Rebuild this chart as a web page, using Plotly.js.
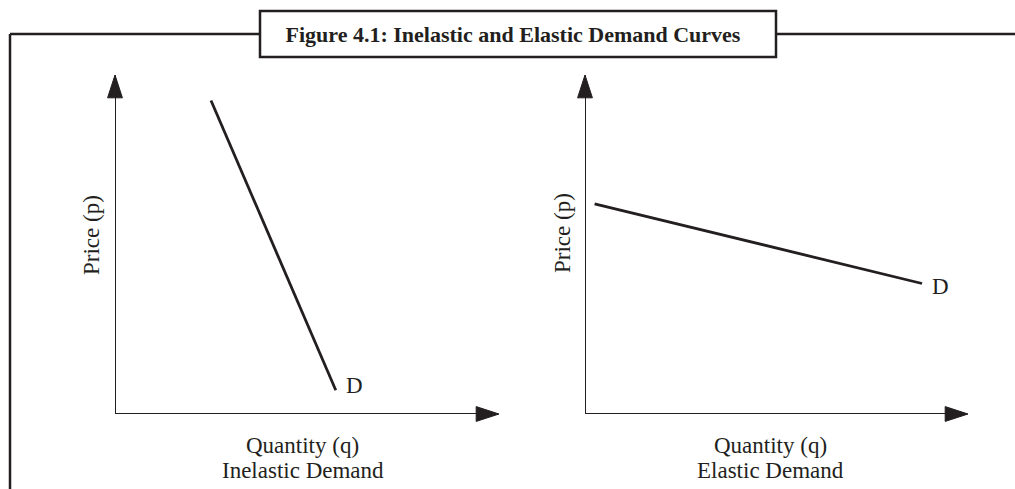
<!DOCTYPE html>
<html>
<head>
<meta charset="utf-8">
<script src="https://cdn.plot.ly/plotly-3.0.1.min.js"></script>
<style>html,body{margin:0;padding:0;background:#fff;}#chart{width:1015px;height:489px;}</style>
</head>
<body>
<div id="chart"></div>
<script>
// Chart data (schematic demand curves; axes run 0..10)
const chartTitle = 'Figure 4.1: Inelastic and Elastic Demand Curves';
const panelNames = ['Inelastic Demand', 'Elastic Demand'];
const xAxisLabel = 'Quantity (q)';
const yAxisLabel = 'Price (p)';
const curveLabel = 'D';
const axisMax = 10;
const inelasticQuantity = [2.5, 5.75];
const inelasticPrice = [9.25, 0.7];
const elasticQuantity = [0.25, 8.8];
const elasticPrice = [6.2, 3.85];

const INK = '#231f20';
const FONT = 'Liberation Serif, Times New Roman, serif';

function axisTraces(xa, ya) {
  const mk = { symbol: 'arrow', size: [0, 24], angleref: 'previous', color: INK, opacity: 1,
               line: { color: INK, width: 1 } };
  return [
    { x: [0, axisMax], y: [0, 0], xaxis: xa, yaxis: ya, mode: 'lines+markers',
      line: { color: INK, width: 2 }, marker: mk,
      cliponaxis: false, hoverinfo: 'skip', showlegend: false },
    { x: [0, 0], y: [0, axisMax], xaxis: xa, yaxis: ya, mode: 'lines+markers',
      line: { color: INK, width: 2 }, marker: mk,
      cliponaxis: false, hoverinfo: 'skip', showlegend: false }
  ];
}

const traces = [
  ...axisTraces('x', 'y'),
  ...axisTraces('x2', 'y2'),
  { x: inelasticQuantity, y: inelasticPrice, xaxis: 'x', yaxis: 'y', mode: 'lines',
    line: { color: INK, width: 2.8 }, cliponaxis: false, showlegend: false, name: panelNames[0] },
  { x: elasticQuantity, y: elasticPrice, xaxis: 'x2', yaxis: 'y2', mode: 'lines',
    line: { color: INK, width: 2.8 }, cliponaxis: false, showlegend: false, name: panelNames[1] }
];

const W = 1015, H = 489;
const px = v => v / W;
const py = v => 1 - v / H;

const hidden = { visible: false, range: [0, axisMax], fixedrange: true };

const textFont = { family: FONT, size: 23, color: INK };

const layout = {
  width: W, height: H,
  margin: { l: 0, r: 0, t: 0, b: 0 },
  paper_bgcolor: '#fff', plot_bgcolor: 'rgba(0,0,0,0)',
  showlegend: false,
  title: { text: '<b>' + chartTitle + '</b>', x: px(513), xanchor: 'center', y: py(34), yanchor: 'middle',
           font: { family: FONT, size: 22, color: INK } },
  xaxis: Object.assign({ domain: [px(115), px(499)] }, hidden),
  yaxis: Object.assign({ domain: [py(414), py(75)] }, hidden),
  xaxis2: Object.assign({ domain: [px(585), px(968)], anchor: 'y2' }, hidden),
  yaxis2: Object.assign({ domain: [py(414), py(75)], anchor: 'x2' }, hidden),
  shapes: [
    { type: 'line', xref: 'paper', yref: 'paper', x0: px(10), x1: 1, y0: py(34), y1: py(34), line: { color: INK, width: 2.5 }, layer: 'below' },
    { type: 'line', xref: 'paper', yref: 'paper', x0: px(10), x1: px(10), y0: py(34), y1: 0, line: { color: INK, width: 2.5 }, layer: 'below' },
    { type: 'rect', xref: 'paper', yref: 'paper', x0: px(260), x1: px(776), y0: py(57), y1: py(11), fillcolor: '#fff', line: { color: INK, width: 2.5 }, layer: 'below' }
  ],
  annotations: [
    { text: curveLabel, xref: 'x', yref: 'y', x: inelasticQuantity[1], y: inelasticPrice[1], xanchor: 'left', yanchor: 'middle', xshift: 8, yshift: 5, showarrow: false, font: textFont },
    { text: curveLabel, xref: 'x2', yref: 'y2', x: elasticQuantity[1], y: elasticPrice[1], xanchor: 'left', yanchor: 'middle', xshift: 8, yshift: -3, showarrow: false, font: textFont },
    { text: xAxisLabel, xref: 'paper', yref: 'paper', x: px(302.5), y: py(445), xanchor: 'center', yanchor: 'middle', showarrow: false, font: textFont },
    { text: panelNames[0], xref: 'paper', yref: 'paper', x: px(302.5), y: py(470), xanchor: 'center', yanchor: 'middle', showarrow: false, font: textFont },
    { text: xAxisLabel, xref: 'paper', yref: 'paper', x: px(770), y: py(445), xanchor: 'center', yanchor: 'middle', showarrow: false, font: textFont },
    { text: panelNames[1], xref: 'paper', yref: 'paper', x: px(770), y: py(470), xanchor: 'center', yanchor: 'middle', showarrow: false, font: textFont },
    { text: yAxisLabel, xref: 'paper', yref: 'paper', x: px(92), y: py(235), xanchor: 'center', yanchor: 'middle', textangle: -90, showarrow: false, font: textFont },
    { text: yAxisLabel, xref: 'paper', yref: 'paper', x: px(562), y: py(233), xanchor: 'center', yanchor: 'middle', textangle: -90, showarrow: false, font: textFont }
  ]
};

Plotly.newPlot('chart', traces, layout, { staticPlot: true, displayModeBar: false });
</script>
</body>
</html>
